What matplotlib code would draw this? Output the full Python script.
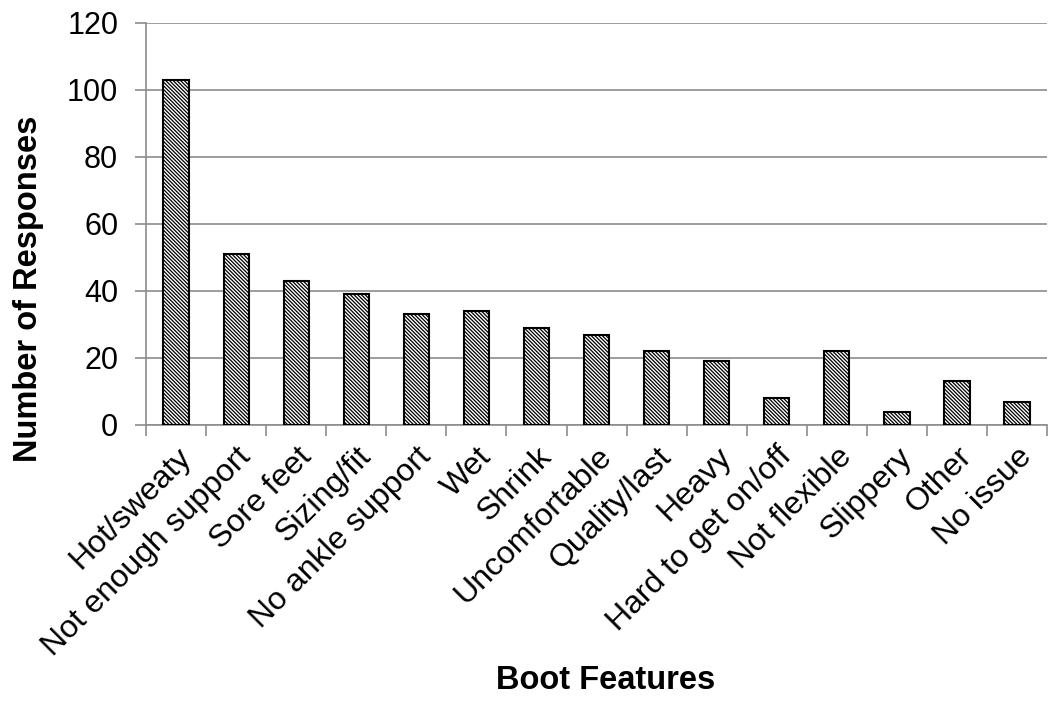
import numpy as np
import matplotlib.pyplot as plt

plt.rcParams['font.family'] = ['Liberation Sans', 'DejaVu Sans']
plt.rcParams['hatch.linewidth'] = 0.9

categories = ['Hot/sweaty', 'Not enough support', 'Sore feet', 'Sizing/fit',
              'No ankle support', 'Wet', 'Shrink', 'Uncomfortable',
              'Quality/last', 'Heavy', 'Hard to get on/off', 'Not flexible',
              'Slippery', 'Other', 'No issue']
responses = [103, 51, 43, 39, 33, 34, 29, 27, 22, 19, 8, 22, 4, 13, 7]
yticks = [0, 20, 40, 60, 80, 100, 120]

fig = plt.figure(figsize=(10.62, 7.11), dpi=100)
ax = fig.add_axes([0.1375, 0.4023, 0.8485, 0.5654])

x = np.arange(len(categories))
ax.bar(x, responses, width=0.42, color='white', edgecolor='black',
       linewidth=1.5, hatch='\\' * 9, zorder=3)

ax.set_xlim(-0.5, len(categories) - 0.5)
ax.set_ylim(0, 120)
ax.set_yticks(yticks)
ax.yaxis.grid(True, color='#8c8c8c', linewidth=1.2, zorder=0)

# category ticks sit on the boundaries, labels at the centres
ax.set_xticks(np.arange(len(categories) + 1) - 0.5)
ax.set_xticklabels([])
ax.set_xticks(x, minor=True)
ax.set_xticklabels(categories, minor=True, rotation=45, ha='right',
                   rotation_mode='anchor', fontsize=23)
ax.tick_params(axis='x', which='minor', length=0, pad=12)
ax.tick_params(axis='x', which='major', length=8, color='#8c8c8c', width=1.2)
ax.tick_params(axis='y', length=8, color='#8c8c8c', width=1.2, labelsize=22, pad=12)

for s in ['top', 'right']:
    ax.spines[s].set_visible(False)
ax.spines['left'].set_color('#8c8c8c')
ax.spines['left'].set_linewidth(1.2)
ax.spines['bottom'].set_color('#8c8c8c')
ax.spines['bottom'].set_linewidth(1.2)

fig.text(0.027, 0.594, 'Number of Responses', fontsize=23.5, fontweight='bold',
         rotation=90, ha='center', va='center')
fig.text(0.57, 0.043, 'Boot Features', fontsize=23.5, fontweight='bold',
         ha='center', va='center')

fig.savefig('out.png', dpi=100)
